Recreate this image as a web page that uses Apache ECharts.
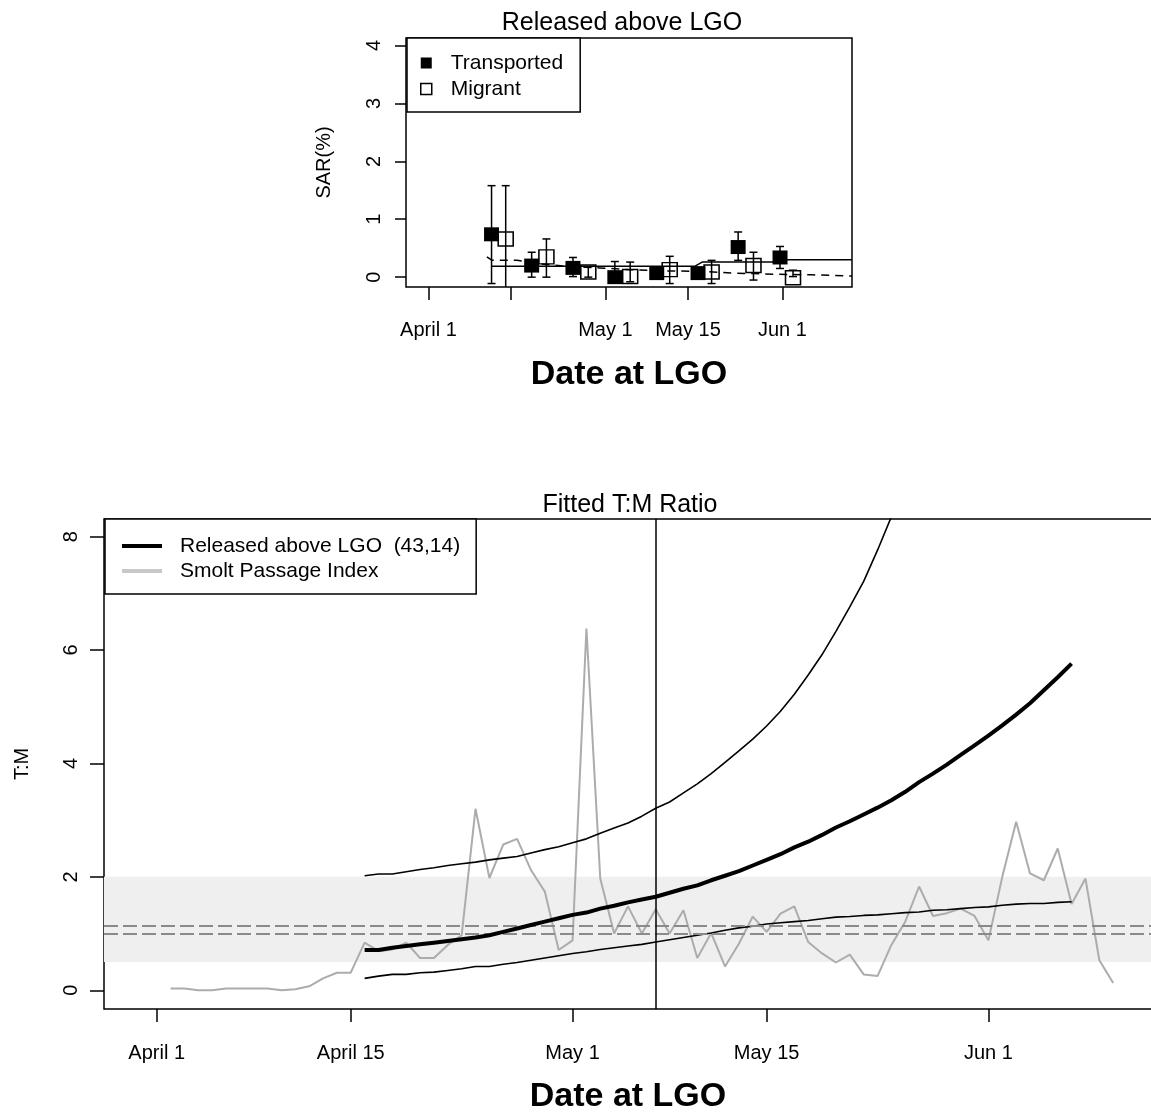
<!DOCTYPE html>
<html><head><meta charset="utf-8">
<script src="https://cdn.jsdelivr.net/npm/echarts@6.0.0/dist/echarts.min.js"></script>
<style>html,body{margin:0;padding:0;background:#fff}#c{width:1151px;height:1112px}</style>
</head><body><div id="c"></div>
<script>
// ---- shared axis ticks (day counted from March 31: April 1 = 1) ----
const tickDays = [1, 15, 31, 45, 61];
const tickLabels = ['April 1', 'April 15', 'May 1', 'May 15', 'Jun 1'];
const topLabelDays = [1, 31, 45, 61];
const sarTicks = [0, 1, 2, 3, 4];
const tmTicks = [0, 2, 4, 6, 8];

// ---- top panel: SAR (%) ----
const transDays = [11.7, 18.5, 25.5, 32.6, 39.7, 46.7, 53.5, 60.6];
const transSAR  = [0.74, 0.20, 0.16, 0.00, 0.07, 0.07, 0.52, 0.34];
const transLow  = [-0.11, 0.00, 0.01, -0.05, 0.02, 0.02, 0.29, 0.15];
const transHigh = [1.58, 0.43, 0.34, 0.27, 0.13, 0.12, 0.78, 0.53];
const migDays = [14.1, 21.0, 28.1, 35.2, 41.9, 49.0, 56.1, 62.8];
const migSAR  = [0.66, 0.35, 0.09, 0.01, 0.13, 0.09, 0.20, -0.01];
const migLow  = [-0.25, 0.00, 0.00, -0.08, -0.11, -0.11, -0.05, 0.01];
const migHigh = [1.58, 0.66, 0.18, 0.26, 0.36, 0.29, 0.43, 0.12];
const transFitDays = [11.7, 46.2, 47.4, 60.2, 60.8, 72.8];
const transFit     = [0.19, 0.19, 0.26, 0.26, 0.30, 0.30];
const migFitDays = [10.9, 11.8, 16, 20, 25, 30, 35, 40, 47, 53, 60, 66, 72.8];
const migFit     = [0.35, 0.29, 0.29, 0.23, 0.18, 0.16, 0.13, 0.11, 0.10, 0.07, 0.05, 0.04, 0.02];

// ---- bottom panel: fitted T:M ratio ----
const fitStartDay = 16;
const tmFit = [0.71,0.71,0.75,0.78,0.81,0.84,0.87,0.90,0.93,0.97,
  1.03,1.09,1.15,1.21,1.27,1.33,1.37,1.44,1.49,1.55,
  1.60,1.65,1.72,1.79,1.85,1.94,2.02,2.10,2.20,2.30,
  2.40,2.52,2.62,2.74,2.87,2.98,3.10,3.22,3.35,3.50,
  3.67,3.82,3.98,4.15,4.32,4.49,4.67,4.86,5.06,5.29,
  5.52,5.76];
const tmUpper = [2.02,2.05,2.05,2.09,2.13,2.16,2.20,2.23,2.26,2.30,
  2.33,2.36,2.42,2.48,2.53,2.60,2.67,2.77,2.86,2.95,
  3.07,3.21,3.32,3.48,3.64,3.82,4.02,4.22,4.43,4.66,
  4.92,5.22,5.56,5.92,6.33,6.76,7.21,7.76,8.35,9.00];
const tmLower = [0.21,0.25,0.28,0.28,0.31,0.32,0.35,0.38,0.42,0.42,
  0.46,0.49,0.53,0.57,0.61,0.65,0.68,0.72,0.75,0.78,
  0.81,0.85,0.89,0.93,0.97,1.01,1.06,1.10,1.13,1.17,
  1.19,1.21,1.23,1.26,1.29,1.30,1.32,1.33,1.35,1.37,
  1.38,1.41,1.42,1.44,1.46,1.47,1.50,1.52,1.53,1.53,
  1.55,1.56];
const smoltStartDay = 2;
const smoltIndex = [0.03,0.03,0.00,0.00,0.03,0.03,0.03,0.03,0.00,0.02,
  0.07,0.21,0.31,0.31,0.84,0.69,0.72,0.84,0.57,0.57,
  0.80,0.97,3.20,1.98,2.57,2.67,2.12,1.74,0.71,0.88,
  6.38,1.97,1.00,1.48,1.00,1.43,1.00,1.41,0.57,1.01,
  0.42,0.82,1.30,1.03,1.35,1.48,0.85,0.65,0.49,0.63,
  0.28,0.25,0.80,1.21,1.83,1.31,1.36,1.44,1.31,0.88,
  2.00,2.97,2.06,1.94,2.50,1.52,1.97,0.53,0.13];
const bandRange = [0.5, 2.0];
const refLines = [1.0, 1.13];
const markerDay = 37;

const FONT = '"Liberation Sans", Arial, sans-serif';
const fitName = 'Released above LGO  (43,14)';
const smoltName = 'Smolt Passage Index';

const pairs = (xs, ys) => xs.map((x, i) => [x, ys[i]]);
const seq = (start, ys) => ys.map((y, i) => [start + i, y]);
const errData = (xs, lo, hi) => xs.map((x, i) => [x, lo[i], hi[i]]);

function errRender(params, api) {
  const x = api.value(0), lo = api.value(1), hi = api.value(2);
  const p1 = api.coord([x, lo]), p2 = api.coord([x, hi]);
  const cw = 4;
  const st = { stroke: '#000', lineWidth: 1.5, fill: null };
  return { type: 'group', children: [
    { type: 'line', shape: { x1: p1[0], y1: p1[1], x2: p2[0], y2: p2[1] }, style: st },
    { type: 'line', shape: { x1: p1[0] - cw, y1: p1[1], x2: p1[0] + cw, y2: p1[1] }, style: st },
    { type: 'line', shape: { x1: p2[0] - cw, y1: p2[1], x2: p2[0] + cw, y2: p2[1] }, style: st }
  ]};
}

const labelOf = v => { const i = tickDays.indexOf(v); return i >= 0 ? tickLabels[i] : ''; };

function xAxisCfg(gridIndex, labelDays, tickLen, margin, nameGap) {
  return {
    type: 'value', gridIndex, min: -2.8, max: 72.8, position: 'bottom',
    axisLine: { show: false, onZero: false },
    splitLine: { show: false },
    axisTick: { show: true, inside: false, length: tickLen, customValues: tickDays,
      lineStyle: { color: '#000', width: 1.5 } },
    axisLabel: { show: true, customValues: labelDays, formatter: labelOf, margin,
      fontSize: 20, fontFamily: FONT, color: '#000' },
    name: 'Date at LGO', nameLocation: 'middle', nameGap,
    nameTextStyle: { fontSize: 34, fontWeight: 'bold', fontFamily: FONT, color: '#000' }
  };
}
function yAxisCfg(gridIndex, min, max, ticks, name, tickLen, margin, nameGap) {
  return {
    type: 'value', gridIndex, min, max, position: 'left',
    axisLine: { show: false, onZero: false },
    splitLine: { show: false },
    axisTick: { show: true, inside: false, length: tickLen, customValues: ticks,
      lineStyle: { color: '#000', width: 1.5 } },
    axisLabel: { show: true, customValues: ticks, rotate: 90, margin,
      fontSize: 20, fontFamily: FONT, color: '#000' },
    name, nameLocation: 'middle', nameRotate: 90, nameGap,
    nameTextStyle: { fontSize: 20, fontFamily: FONT, color: '#000' }
  };
}

const chart = echarts.init(document.getElementById('c'), null, { renderer: 'canvas' });
chart.setOption({
  animation: false,
  backgroundColor: '#fff',
  grid: [
    { left: 406, top: 38, width: 446, height: 249, show: true, borderColor: '#000', borderWidth: 1.5,
      backgroundColor: 'transparent', containLabel: false, outerBoundsMode: 'none' },
    { left: 104, top: 519, width: 1048, height: 490, show: true, borderColor: '#000', borderWidth: 1.5,
      backgroundColor: 'transparent', containLabel: false, outerBoundsMode: 'none' }
  ],
  xAxis: [ xAxisCfg(0, topLabelDays, 13, 33, 71), xAxisCfg(1, tickDays, 13, 34, 71) ],
  yAxis: [
    yAxisCfg(0, -0.17, 4.13, sarTicks, 'SAR(%)', 11, 22, 72),
    yAxisCfg(1, -0.33, 8.31, tmTicks, 'T:M', 14, 23, 72)
  ],
  graphic: [
    { type: 'text', x: 622, y: 23, style: { text: 'Released above LGO', fontSize: 25, fontFamily: FONT, fill: '#000', align: 'center', verticalAlign: 'middle' } },
    { type: 'text', x: 630, y: 505, style: { text: 'Fitted T:M Ratio', fontSize: 25, fontFamily: FONT, fill: '#000', align: 'center', verticalAlign: 'middle' } }
  ],
  legend: [
    {
      left: 407, top: 38, orient: 'vertical', selectedMode: false,
      padding: [14, 17, 12, 13], itemGap: 4, itemWidth: 11, itemHeight: 11,
      backgroundColor: '#fff', borderColor: '#000', borderWidth: 1.5, borderRadius: 0,
      textStyle: { fontSize: 21, fontFamily: FONT, color: '#000', lineHeight: 22, padding: [0, 0, 0, 14] },
      data: [
        { name: 'Transported', icon: 'rect', itemStyle: { color: '#000', borderWidth: 0 } },
        { name: 'Migrant', icon: 'rect', itemStyle: { color: '#fff', borderColor: '#000', borderWidth: 1.5 } }
      ]
    },
    {
      left: 105, top: 519, orient: 'vertical', selectedMode: false,
      padding: [16, 16, 12, 17], itemGap: 3, itemWidth: 40, itemHeight: 14,
      backgroundColor: '#fff', borderColor: '#000', borderWidth: 1.5, borderRadius: 0,
      textStyle: { fontSize: 21, fontFamily: FONT, color: '#000', lineHeight: 22, padding: [0, 0, 0, 13] },
      data: [
        { name: fitName, icon: 'path://M0 0H40V4H0Z', itemStyle: { color: '#000', borderWidth: 0 } },
        { name: smoltName, icon: 'path://M0 0H40V4H0Z', itemStyle: { color: '#c8c8c8', borderWidth: 0 } }
      ]
    }
  ],
  series: [
    // top panel
    { type: 'line', name: 'Transported fit', xAxisIndex: 0, yAxisIndex: 0, data: pairs(transFitDays, transFit),
      symbol: 'none', lineStyle: { color: '#000', width: 1.5 }, z: 2, silent: true },
    { type: 'line', name: 'Migrant fit', xAxisIndex: 0, yAxisIndex: 0, data: pairs(migFitDays, migFit),
      symbol: 'none', lineStyle: { color: '#000', width: 1.5, type: [8, 6] }, z: 2, silent: true },
    { type: 'custom', name: 'Transported CI', xAxisIndex: 0, yAxisIndex: 0, clip: true,
      data: errData(transDays, transLow, transHigh), renderItem: errRender, z: 3, silent: true },
    { type: 'custom', name: 'Migrant CI', xAxisIndex: 0, yAxisIndex: 0, clip: true,
      data: errData(migDays, migLow, migHigh), renderItem: errRender, z: 3, silent: true },
    { type: 'scatter', name: 'Transported', xAxisIndex: 0, yAxisIndex: 0, data: pairs(transDays, transSAR),
      symbol: 'rect', symbolSize: [15, 14], itemStyle: { color: '#000', opacity: 1 }, z: 4 },
    { type: 'scatter', name: 'Migrant', xAxisIndex: 0, yAxisIndex: 0, data: pairs(migDays, migSAR),
      symbol: 'rect', symbolSize: [15, 14], itemStyle: { color: 'transparent', borderColor: '#000', borderWidth: 1.5, opacity: 1 }, z: 4 },
    // bottom panel: band + reference lines
    { type: 'line', name: 'band', xAxisIndex: 1, yAxisIndex: 1, data: [], z: 1, silent: true,
      markArea: { silent: true, itemStyle: { color: '#efefef' }, label: { show: false },
        data: [[{ yAxis: bandRange[0] }, { yAxis: bandRange[1] }]] },
      markLine: { silent: true, symbol: ['none', 'none'], label: { show: false },
        lineStyle: { color: '#8a8a8a', width: 2, type: [14, 5] },
        data: refLines.map(v => ({ yAxis: v })) } },
    { type: 'line', name: smoltName, xAxisIndex: 1, yAxisIndex: 1, data: seq(smoltStartDay, smoltIndex),
      symbol: 'none', lineStyle: { color: '#acacac', width: 2 }, itemStyle: { color: '#acacac' }, z: 3, silent: true },
    { type: 'line', name: 'Upper', xAxisIndex: 1, yAxisIndex: 1, data: seq(fitStartDay, tmUpper),
      symbol: 'none', lineStyle: { color: '#000', width: 1.6 }, z: 4, silent: true },
    { type: 'line', name: 'Lower', xAxisIndex: 1, yAxisIndex: 1, data: seq(fitStartDay, tmLower),
      symbol: 'none', lineStyle: { color: '#000', width: 1.6 }, z: 4, silent: true },
    { type: 'line', name: fitName, xAxisIndex: 1, yAxisIndex: 1, data: seq(fitStartDay, tmFit),
      symbol: 'none', lineStyle: { color: '#000', width: 4 }, itemStyle: { color: '#000' }, z: 5, silent: true,
      markLine: { silent: true, symbol: ['none', 'none'], label: { show: false },
        lineStyle: { color: '#000', width: 1.5, type: 'solid' },
        data: [{ xAxis: markerDay }] } }
  ]
});
</script></body></html>
